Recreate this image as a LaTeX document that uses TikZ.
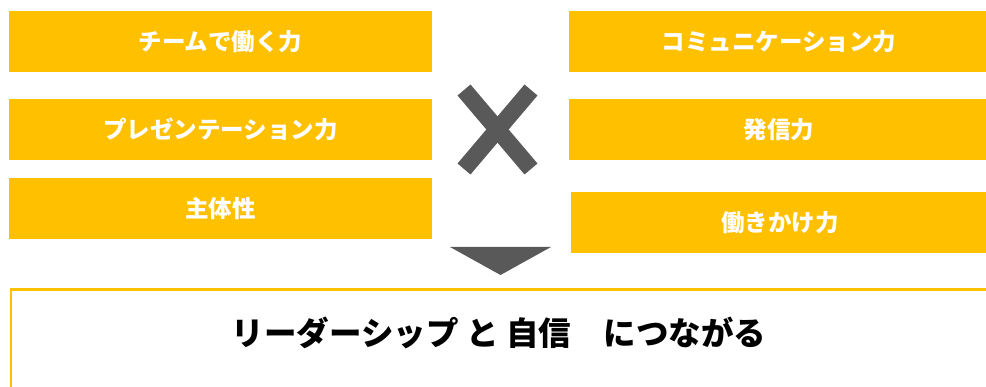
\documentclass[tikz,border=0pt]{standalone}
\usepackage{fontspec}
\newfontfamily\jp{Noto Sans CJK JP}
\definecolor{boxyellow}{HTML}{FFC000}
\definecolor{markgray}{HTML}{595959}
\tikzset{
  skillbox/.style={rectangle, fill=boxyellow, draw=none, minimum height=61pt, inner sep=0pt,
    text=white, font=\jp\bfseries\fontsize{23.5}{26}\selectfont},
  resultbox/.style={rectangle, draw=boxyellow, line width=2.2pt, fill=white, inner sep=0pt},
  resulttext/.style={text=black, font=\jp\bfseries\fontsize{32.5}{36}\selectfont, inner sep=0pt},
  crossarm/.style={markgray, line width=17pt, line cap=butt},
  downtri/.style={fill=markgray, draw=none}
}
\begin{document}
\begin{tikzpicture}[x=1pt, y=-1pt]
\useasboundingbox (0,0) rectangle (986,387);
% left boxes
\node[skillbox, minimum width=423pt] (l1) at (220.5,41.5) {\raisebox{1pt}{チームで働く力}};
\node[skillbox, minimum width=423pt] (l2) at (220.5,129.5) {\raisebox{1pt}{プレゼンテーション力}};
\node[skillbox, minimum width=423pt] (l3) at (220.5,208.5) {\raisebox{1pt}{主体性}};
% right boxes
\node[skillbox, minimum width=420pt] (r1) at (779,41.5) {\raisebox{1pt}{コミュニケーション力}};
\node[skillbox, minimum width=420pt] (r2) at (779,129.5) {\raisebox{1pt}{発信力}};
\node[skillbox, minimum width=418pt] (r3) at (780,222.5) {\raisebox{1pt}{働きかけ力}};
% cross mark
\coordinate (xa) at (464,90);
\coordinate (xb) at (531,169);
\coordinate (xc) at (531,90);
\coordinate (xd) at (464,169);
\draw[crossarm] (xa) -- (xb);
\draw[crossarm] (xc) -- (xd);
% down triangle
\coordinate (ta) at (450,247);
\coordinate (tb) at (551,247);
\coordinate (tc) at (500.5,275);
\fill[downtri] (ta) -- (tb) -- (tc) -- cycle;
% result box
\node[resultbox, minimum width=1000pt, minimum height=120pt, anchor=north west] (res) at (9.5,288.5) {};
\node[resulttext] (restext) at (499,333) {リーダーシップ と 自信　につながる};
\end{tikzpicture}
\end{document}
